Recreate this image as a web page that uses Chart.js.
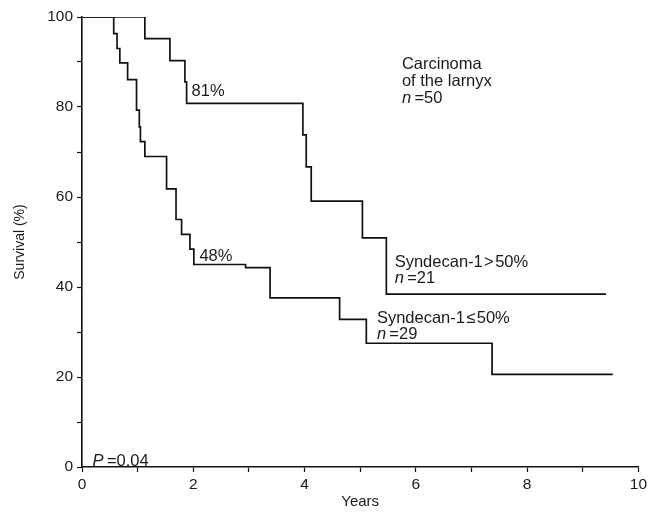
<!DOCTYPE html>
<html>
<head>
<meta charset="utf-8">
<script src="https://cdn.jsdelivr.net/npm/chart.js@4"></script>
<style>
  html, body { margin: 0; padding: 0; background: #fff; }
  #wrap { width: 650px; height: 514px; }
</style>
</head>
<body>
<div id="wrap"><canvas id="chart" width="650" height="514"></canvas></div>
<script>
// Syndecan-1 > 50% (n=21): step times (years) and survival (%)
const highTimes = [0, 1.13, 1.58, 1.85, 1.88, 3.97, 4.03, 4.12, 5.04, 5.47, 9.42];
const highSurv  = [100, 95.2, 90.3, 85.6, 80.8, 73.8, 66.7, 59.1, 50.9, 38.4, 38.4];

// Syndecan-1 <= 50% (n=29)
const lowTimes = [0, 0.57, 0.63, 0.68, 0.82, 0.98, 1.03, 1.05, 1.13, 1.52, 1.69, 1.79, 1.94, 2.01, 2.94, 3.38, 4.63, 5.11, 7.37, 9.54];
const lowSurv  = [100, 96.3, 93.0, 89.8, 86.1, 79.3, 75.6, 72.3, 69.0, 61.8, 55.0, 51.7, 48.4, 45.0, 44.3, 37.6, 32.8, 27.5, 20.6, 20.6];

const yTicks = [0, 20, 40, 60, 80, 100];
const xTicks = [0, 2, 4, 6, 8, 10];

// text notes placed in data coordinates: [x, y, parts]
const notes = [
  [1.97, 83.5, [['81%', false]]],
  [2.11, 46.8, [['48%', false]]],
  [5.75, 89.4, [['Carcinoma', false]]],
  [5.75, 85.7, [['of the larnyx', false]]],
  [5.75, 82.0, [['n', true], ['\u2009=50', false]]],
  [5.62, 45.5, [['Syndecan-1\u200a>\u200a50%', false]]],
  [5.62, 42.0, [['n', true], ['\u2009=21', false]]],
  [5.30, 33.1, [['Syndecan-1\u200a\u2264\u200a50%', false]]],
  [5.30, 29.4, [['n', true], ['\u2009=29', false]]],
  [0.19, 1.3, [['P', true], ['\u2009=0.04', false]]]
];

const FONT = 'Liberation Sans, Arial, Helvetica, sans-serif';

const notesPlugin = {
  id: 'notes',
  afterDatasetsDraw(chart) {
    const ctx = chart.ctx;
    const xs = chart.scales.x, ys = chart.scales.y;
    ctx.save();
    ctx.fillStyle = '#1a1a1a';
    ctx.textBaseline = 'middle';
    ctx.textAlign = 'left';
    notes.forEach(([x, y, parts]) => {
      let px = xs.getPixelForValue(x);
      const py = ys.getPixelForValue(y);
      parts.forEach(([txt, ital]) => {
        ctx.font = (ital ? 'italic ' : '') + '16.5px ' + FONT;
        ctx.fillText(txt, px, py);
        px += ctx.measureText(txt).width;
      });
    });
    ctx.restore();
  }
};

const toPoints = (t, s) => t.map((v, i) => ({ x: v, y: s[i] }));

new Chart(document.getElementById('chart').getContext('2d'), {
  type: 'line',
  data: {
    datasets: [
      {
        label: 'Syndecan-1 > 50%',
        data: toPoints(highTimes, highSurv),
        borderColor: '#111',
        borderWidth: 1.7,
        pointRadius: 0,
        stepped: true,
        fill: false
      },
      {
        label: 'Syndecan-1 <= 50%',
        data: toPoints(lowTimes, lowSurv),
        borderColor: '#111',
        borderWidth: 1.7,
        pointRadius: 0,
        stepped: true,
        fill: false
      }
    ]
  },
  options: {
    responsive: false,
    animation: false,
    layout: { padding: { top: 17, right: 11, left: 0, bottom: 0 } },
    plugins: { legend: { display: false }, tooltip: { enabled: false } },
    scales: {
      x: {
        type: 'linear',
        min: 0,
        max: 10,
        afterFit(scale) { scale.height = 47; },
        ticks: {
          stepSize: 1,
          color: '#1a1a1a',
          font: { family: FONT, size: 15.5 },
          padding: 3,
          maxRotation: 0,
          callback: v => xTicks.includes(v) ? String(v) : ''
        },
        grid: { drawOnChartArea: false, tickLength: 5, color: '#111', tickWidth: 1.2 },
        border: { color: '#111', width: 1.6 },
        title: {
          display: true,
          text: 'Years',
          color: '#1a1a1a',
          font: { family: FONT, size: 15 },
          padding: { top: 0, bottom: 3 }
        }
      },
      y: {
        min: 0,
        max: 100,
        afterFit(scale) { scale.width = 82; },
        ticks: {
          stepSize: 10,
          color: '#1a1a1a',
          font: { family: FONT, size: 15.5 },
          padding: 4,
          callback: v => yTicks.includes(v) ? String(v) : ''
        },
        grid: { drawOnChartArea: false, tickLength: 5, color: '#111', tickWidth: 1.2 },
        border: { color: '#111', width: 1.6 },
        title: {
          display: true,
          text: 'Survival (%)',
          color: '#1a1a1a',
          font: { family: FONT, size: 14 },
          padding: { top: 12, bottom: 0 }
        }
      }
    }
  },
  plugins: [notesPlugin]
});
</script>
</body>
</html>
